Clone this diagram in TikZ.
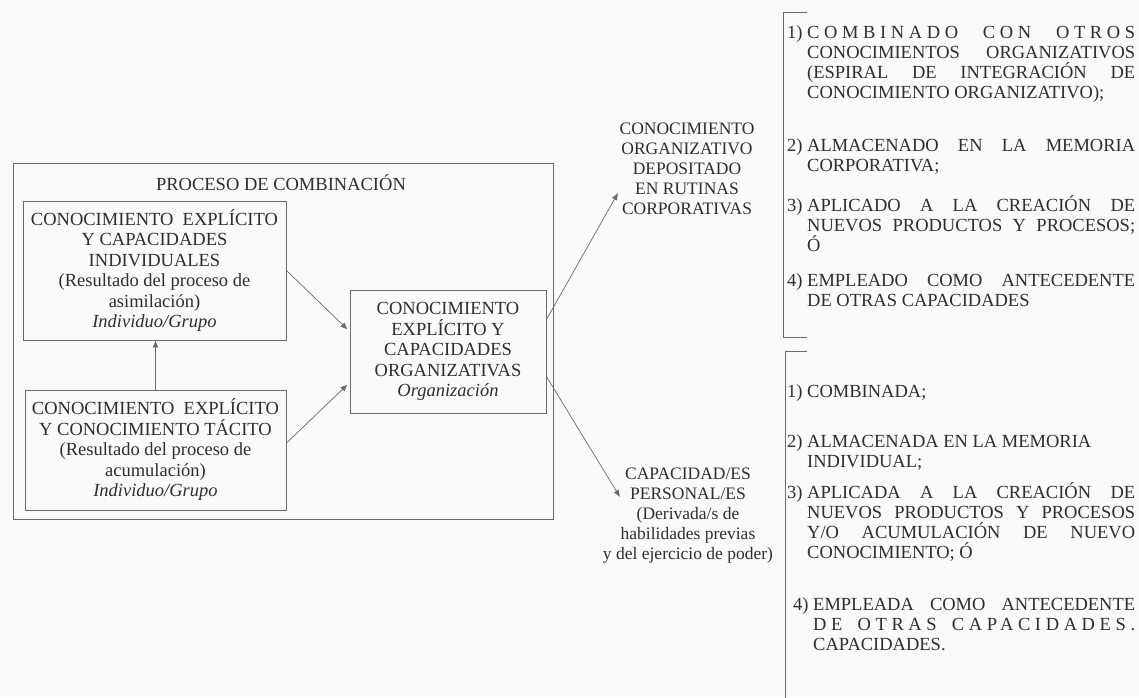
\documentclass[tikz,border=0pt]{standalone}
\usepackage{fontspec}
\setmainfont{Liberation Serif}
\usetikzlibrary{arrows.meta,calc}
\definecolor{ink}{HTML}{2E2E2E}
\definecolor{rulegray}{HTML}{6A6A6A}
\definecolor{paper}{HTML}{FAFAF8}
% item number column, justified text lines and hanging indent
\newcommand\itemnum[1]{\makebox[20pt][l]{#1}}
\newcommand\hang{\hspace*{20pt}}
\newcommand\jline[1]{\makebox[328pt][s]{#1}}
\begin{document}
\begin{tikzpicture}[x=1pt,y=-1pt,
  every node/.style={text=ink, inner sep=0pt},
  boxfont/.style={font=\fontsize{18.5}{20.5}\selectfont},
  box/.style={boxfont, draw=rulegray, line width=0.9pt, align=center},
  % multi-line nodes are placed by the baseline of their last line
  midtext/.style={font=\fontsize{17.5}{20}\selectfont, align=center, anchor=base},
  listitem/.style={font=\fontsize{18.5}{20}\selectfont, align=left, anchor=base west},
  conn/.style={draw=rulegray, line width=0.7pt, -{Latex[length=7pt,width=6pt]}},
  bracket/.style={draw=rulegray, line width=0.9pt}
]
\fill[paper] (0,0) rectangle (1139,697);
\useasboundingbox (0,0) rectangle (1139,697);

% combination process frame
\node[draw=rulegray, line width=0.9pt, minimum width=540pt, minimum height=356pt] (proc) at (283,341) {};
\node[boxfont] (proctitle) at (281,183) {PROCESO DE COMBINACIÓN};

\node[box, minimum width=263pt, minimum height=139pt] (indiv) at (154.5,270.5)
  {CONOCIMIENTO\ \ EXPLÍCITO\\Y CAPACIDADES\\INDIVIDUALES\\(Resultado del proceso de\\asimilación)\\\textit{Individuo/Grupo}};
\node[box, minimum width=261pt, minimum height=120pt] (tacit) at (155.5,450)
  {CONOCIMIENTO\ \ EXPLÍCITO\\Y CONOCIMIENTO TÁCITO\\(Resultado del proceso de\\acumulación)\\\textit{Individuo/Grupo}};
\node[box, minimum width=196pt, minimum height=123pt] (orgc) at (448,351.5)
  {CONOCIMIENTO\\EXPLÍCITO Y\\CAPACIDADES\\ORGANIZATIVAS\\\textit{Organización}};

\draw[conn] (indiv.east) -- ($(orgc.west)+(-2,-22)$);
\draw[conn] ($(tacit.east)+(0,-7)$) -- ($(orgc.west)+(-2,33)$);
\draw[conn] (tacit.north) -- (tacit.north |- indiv.south);

% outcomes of the organisational knowledge
\node[midtext] (dep) at (687,214)
  {CONOCIMIENTO\\ORGANIZATIVO\\DEPOSITADO\\EN RUTINAS\\CORPORATIVAS};
\node[midtext] (per) at (688,559)
  {CAPACIDAD/ES\\PERSONAL/ES\\(Derivada/s de\\habilidades previas\\y del ejercicio de poder)};
\coordinate (depTip) at (618,193);
\coordinate (perTip) at (620,497);
\draw[conn] ($(orgc.east)+(0,-32)$) -- (depTip);
\draw[conn] ($(orgc.east)+(0,25)$) -- (perTip);

% brackets of the two lists
\draw[bracket] (807,12) -- (783,12) -- (783,337) -- (807,337);
\draw[bracket] (807,351) -- (785,351) -- (785,700);

% uses of the deposited organisational knowledge
\node[listitem] (u1) at (787,98)
  {\itemnum{1)}\jline{\addfontfeature{LetterSpace=25}COMBINADO CON OTROS}\\
   \hang\jline{CONOCIMIENTOS ORGANIZATIVOS}\\
   \hang\jline{(ESPIRAL DE INTEGRACIÓN DE}\\
   \hang CONOCIMIENTO ORGANIZATIVO);};
\node[listitem] (u2) at (787,171)
  {\itemnum{2)}\jline{ALMACENADO EN LA MEMORIA}\\
   \hang CORPORATIVA;};
\node[listitem] (u3) at (787,251)
  {\itemnum{3)}\jline{APLICADO A LA CREACIÓN DE}\\
   \hang\jline{NUEVOS PRODUCTOS Y PROCESOS;}\\
   \hang Ó};
\node[listitem] (u4) at (787,306)
  {\itemnum{4)}\jline{EMPLEADO COMO ANTECEDENTE}\\
   \hang DE OTRAS CAPACIDADES};

% uses of the personal capabilities
\node[listitem] (l1) at (787,397) {\itemnum{1)}COMBINADA;};
\node[listitem] (l2) at (787,467)
  {\itemnum{2)}ALMACENADA EN LA MEMORIA\\
   \hang INDIVIDUAL;};
\node[listitem] (l3) at (787,558)
  {\itemnum{3)}\jline{APLICADA A LA CREACIÓN DE}\\
   \hang\jline{NUEVOS PRODUCTOS Y PROCESOS}\\
   \hang\jline{Y/O ACUMULACIÓN DE NUEVO}\\
   \hang CONOCIMIENTO; Ó};
\node[listitem] (l4) at (793,650)
  {\itemnum{4)}\makebox[322pt][s]{EMPLEADA COMO ANTECEDENTE}\\
   \hang\makebox[322pt][s]{\addfontfeature{LetterSpace=25}DE OTRAS CAPACIDADES.}\\
   \hang CAPACIDADES.};
\end{tikzpicture}
\end{document}
